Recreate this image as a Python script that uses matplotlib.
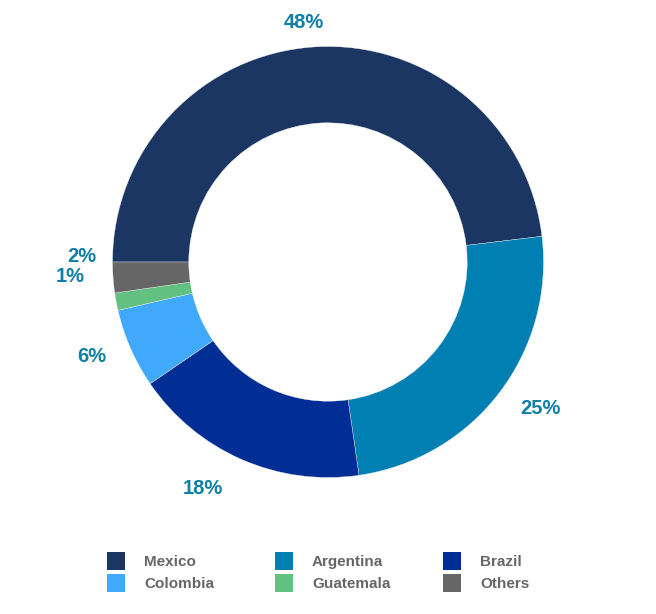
#donut chart of shares by country
import matplotlib
matplotlib.use('Agg')
from matplotlib import pyplot as plt
from matplotlib.patches import Rectangle

labels = ['Mexico', 'Argentina', 'Brazil', 'Colombia', 'Guatemala', 'Others']
values = [48.1, 24.6, 17.75, 5.95, 1.3, 2.3]
colors = ['#1c3664', '#007fb2', '#002e94', '#40a9fc', '#62c080', '#666666']
pct_labels = ['48%', '25%', '18%', '6%', '1%', '2%']
# label centres in pixels of the reference, the ring itself comes from values
label_px = [(304, 22), (540, 408), (203, 488), (92, 357), (70, 276), (82, 256)]
legend_px = [(116, 561), (284, 561), (452, 561), (116, 583), (284, 583), (452, 583)]
legend_text_px = [144, 312, 480]

W, H = 656, 614
fig = plt.figure(figsize=(W / 100, H / 100), dpi=100)
ax = fig.add_axes([0, 0, 1, 1])
ax.set_xlim(0, W)
ax.set_ylim(H, 0)
ax.axis('off')

# pie in its own axes so the ring is placed by the axes box
cx, cy, r = 328, 262, 215.5
pie_ax = fig.add_axes([(cx - r) / W, 1 - (cy + r) / H, 2 * r / W, 2 * r / H])
pie_ax.pie(values, colors=colors, startangle=180, counterclock=False, radius=1,
           wedgeprops={'width': 0.354, 'linewidth': 0.25, 'edgecolor': '#f4f4f4'})
pie_ax.set_xlim(-1, 1)
pie_ax.set_ylim(-1, 1)

for txt, (x, y) in zip(pct_labels, label_px):
    ax.text(x, y, txt, color='#0f7fa8', fontsize=14.5, fontweight='bold', family='Liberation Sans',
            ha='center', va='center', zorder=5)

for i, name in enumerate(labels):
    x, y = legend_px[i]
    ax.add_patch(Rectangle((x - 9, y - 9), 18, 18, color=colors[i], lw=0))
    ax.text(legend_text_px[i % 3], y + 1, name, color='#666666', fontsize=11, fontweight='bold',
            family='Liberation Sans', ha='left', va='center')

fig.savefig('out.png', dpi=100)
